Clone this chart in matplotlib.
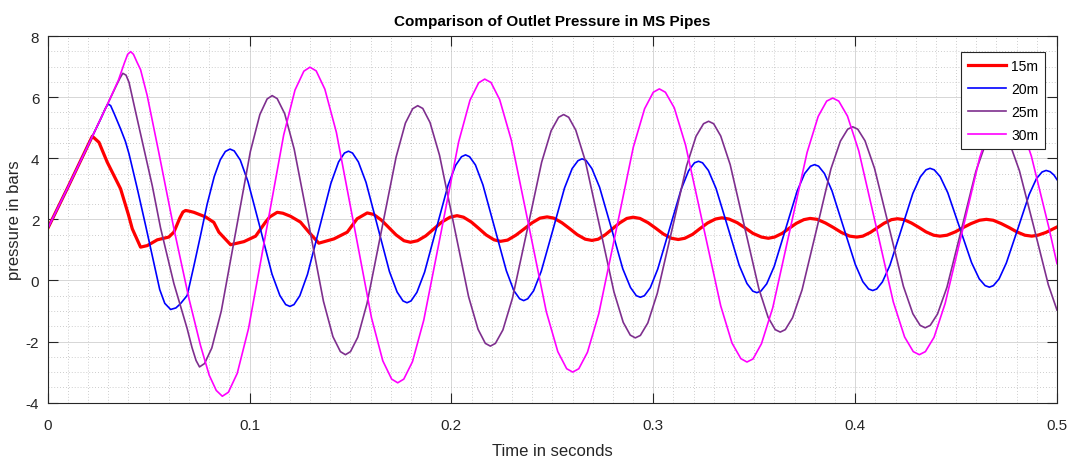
import matplotlib.pyplot as plt
from matplotlib.ticker import MultipleLocator, FormatStrFormatter

# readings taken off the original figure (time in s, pressure in bars)
t_15m = [0.0, 0.010, 0.018, 0.0221, 0.0254, 0.0295, 0.0361, 0.0400, 0.0419, 0.0460,
         0.0493, 0.0543, 0.0600, 0.0625, 0.0655, 0.0670, 0.0683, 0.0700, 0.0724, 0.0782,
         0.0823, 0.0848, 0.0906, 0.0972, 0.1030, 0.1079, 0.1100, 0.1137, 0.1165, 0.1203,
         0.1252, 0.1294, 0.1343, 0.1418, 0.1484, 0.1533, 0.1583,
         0.1615, 0.1654, 0.1690, 0.1726, 0.1765, 0.1797,
         0.1832, 0.1873, 0.1913, 0.1952, 0.1993, 0.2028,
         0.2060, 0.2099, 0.2136, 0.2172, 0.2211, 0.2243,
         0.2278, 0.2319, 0.2359, 0.2398, 0.2439, 0.2474,
         0.2507, 0.2547, 0.2585, 0.2623, 0.2663, 0.2696,
         0.2727, 0.2763, 0.2798, 0.2833, 0.2869, 0.2900,
         0.2934, 0.2974, 0.3012, 0.3050, 0.3090, 0.3124,
         0.3156, 0.3195, 0.3232, 0.3269, 0.3308, 0.3340,
         0.3375, 0.3416, 0.3455, 0.3494, 0.3536, 0.3570,
         0.3601, 0.3638, 0.3674, 0.3709, 0.3746, 0.3777,
         0.3812, 0.3853, 0.3893, 0.3932, 0.3973, 0.4008,
         0.4038, 0.4075, 0.4109, 0.4143, 0.4180, 0.4210,
         0.4242, 0.4279, 0.4315, 0.4351, 0.4389, 0.4420,
         0.4455, 0.4496, 0.4535, 0.4574, 0.4616, 0.4650,
         0.4684, 0.4724, 0.4763, 0.4801, 0.4841, 0.4875,
         0.4905, 0.4945, 0.5000]
p_15m = [1.70, 3.05, 4.15, 4.72, 4.52, 3.87, 3.00, 2.15, 1.69, 1.09,
         1.14, 1.33, 1.42, 1.58, 2.05, 2.24, 2.29, 2.27, 2.23, 2.08,
         1.90, 1.58, 1.17, 1.27, 1.45, 1.91, 2.08, 2.23, 2.20, 2.10,
         1.91, 1.58, 1.22, 1.36, 1.58, 2.02, 2.21,
         2.16, 1.97, 1.73, 1.49, 1.30, 1.25,
         1.30, 1.46, 1.69, 1.91, 2.07, 2.12,
         2.07, 1.91, 1.70, 1.49, 1.33, 1.28,
         1.32, 1.48, 1.68, 1.88, 2.04, 2.08,
         2.04, 1.89, 1.70, 1.50, 1.35, 1.31,
         1.35, 1.50, 1.69, 1.88, 2.03, 2.07,
         2.03, 1.89, 1.71, 1.52, 1.38, 1.34,
         1.38, 1.51, 1.70, 1.88, 2.01, 2.05,
         2.01, 1.89, 1.72, 1.54, 1.42, 1.38,
         1.42, 1.54, 1.71, 1.87, 1.99, 2.03,
         2.00, 1.88, 1.73, 1.57, 1.45, 1.42,
         1.45, 1.57, 1.72, 1.87, 1.99, 2.02,
         1.99, 1.88, 1.74, 1.59, 1.48, 1.45,
         1.48, 1.59, 1.73, 1.86, 1.97, 2.00,
         1.97, 1.86, 1.73, 1.59, 1.48, 1.45,
         1.48, 1.57, 1.75]

t_20m = [0.0, 0.010, 0.020, 0.026, 0.0285, 0.0299, 0.0312, 0.0330, 0.0361, 0.0385,
         0.0403, 0.0444, 0.0485, 0.0525, 0.0555, 0.0580, 0.0609, 0.0635, 0.0658, 0.0691,
         0.0725, 0.0757, 0.0790, 0.0825, 0.0855, 0.0880, 0.0903,
         0.0924, 0.0954, 0.0992, 0.1052, 0.1111, 0.1150, 0.1179, 0.1200,
         0.1220, 0.1249, 0.1287, 0.1345, 0.1403, 0.1441, 0.1470, 0.1490,
         0.1510, 0.1539, 0.1577, 0.1635, 0.1693, 0.1731, 0.1760, 0.1780,
         0.1800, 0.1829, 0.1867, 0.1925, 0.1983, 0.2021, 0.2050, 0.2070,
         0.2090, 0.2119, 0.2156, 0.2214, 0.2272, 0.2309, 0.2338, 0.2358,
         0.2378, 0.2407, 0.2445, 0.2503, 0.2560, 0.2598, 0.2627, 0.2647,
         0.2667, 0.2696, 0.2734, 0.2792, 0.2849, 0.2887, 0.2916, 0.2936,
         0.2956, 0.2985, 0.3022, 0.3080, 0.3138, 0.3175, 0.3204, 0.3224,
         0.3244, 0.3273, 0.3311, 0.3369, 0.3426, 0.3464, 0.3493, 0.3513,
         0.3533, 0.3562, 0.3599, 0.3656, 0.3713, 0.3750, 0.3779, 0.3799,
         0.3819, 0.3848, 0.3885, 0.3943, 0.4001, 0.4038, 0.4067, 0.4087,
         0.4107, 0.4135, 0.4172, 0.4229, 0.4286, 0.4323, 0.4351, 0.4371,
         0.4392, 0.4421, 0.4459, 0.4518, 0.4577, 0.4615, 0.4644, 0.4665,
         0.4685, 0.4713, 0.4749, 0.4806, 0.4862, 0.4898, 0.4926, 0.4946,
         0.4966, 0.4985, 0.5000]
p_20m = [1.70, 3.05, 4.42, 5.25, 5.62, 5.78, 5.72, 5.45, 4.96, 4.55,
         4.14, 3.00, 1.80, 0.60, -0.30, -0.75, -0.95, -0.90, -0.76, -0.49,
         0.50, 1.47, 2.50, 3.40, 3.95, 4.22, 4.30,
         4.24, 3.94, 3.24, 1.73, 0.21, -0.49, -0.79, -0.85,
         -0.79, -0.50, 0.20, 1.69, 3.18, 3.88, 4.17, 4.23,
         4.17, 3.88, 3.21, 1.75, 0.29, -0.38, -0.67, -0.73,
         -0.67, -0.39, 0.27, 1.69, 3.11, 3.77, 4.05, 4.11,
         4.05, 3.78, 3.13, 1.73, 0.32, -0.33, -0.60, -0.66,
         -0.60, -0.34, 0.30, 1.66, 3.02, 3.66, 3.92, 3.98,
         3.93, 3.66, 3.05, 1.72, 0.38, -0.23, -0.50, -0.55,
         -0.50, -0.24, 0.37, 1.68, 2.98, 3.59, 3.85, 3.90,
         3.85, 3.60, 3.01, 1.75, 0.49, -0.10, -0.35, -0.40,
         -0.35, -0.11, 0.46, 1.70, 2.93, 3.50, 3.74, 3.79,
         3.74, 3.50, 2.94, 1.73, 0.52, -0.04, -0.28, -0.33,
         -0.28, -0.05, 0.49, 1.67, 2.85, 3.39, 3.62, 3.67,
         3.62, 3.40, 2.87, 1.73, 0.58, 0.05, -0.17, -0.22,
         -0.17, 0.05, 0.57, 1.69, 2.81, 3.33, 3.55, 3.60,
         3.56, 3.45, 3.30]

t_25m = [0.0, 0.010, 0.020, 0.030, 0.034, 0.0358, 0.0372, 0.0388, 0.0403, 0.0436,
         0.0477, 0.0518, 0.0559, 0.0625, 0.0691, 0.0715, 0.0735, 0.0752,
         0.0777, 0.0813, 0.0860, 0.0932, 0.1004, 0.1051, 0.1087, 0.1112,
         0.1137, 0.1174, 0.1221, 0.1294, 0.1366, 0.1413, 0.1450, 0.1475,
         0.1500, 0.1536, 0.1582, 0.1654, 0.1726, 0.1772, 0.1808, 0.1833,
         0.1858, 0.1894, 0.1941, 0.2013, 0.2085, 0.2132, 0.2168, 0.2193,
         0.2218, 0.2255, 0.2302, 0.2375, 0.2447, 0.2494, 0.2531, 0.2556,
         0.2581, 0.2616, 0.2663, 0.2734, 0.2805, 0.2851, 0.2886, 0.2911,
         0.2936, 0.2973, 0.3020, 0.3093, 0.3165, 0.3212, 0.3249, 0.3274,
         0.3299, 0.3334, 0.3381, 0.3452, 0.3523, 0.3569, 0.3604, 0.3629,
         0.3654, 0.3690, 0.3737, 0.3809, 0.3880, 0.3927, 0.3963, 0.3988,
         0.4013, 0.4049, 0.4096, 0.4168, 0.4239, 0.4286, 0.4322, 0.4347,
         0.4372, 0.4408, 0.4455, 0.4527, 0.4598, 0.4645, 0.4681, 0.4706,
         0.4731, 0.4767, 0.4814, 0.4886, 0.4957, 0.5000]
p_25m = [1.70, 3.05, 4.42, 5.82, 6.38, 6.62, 6.78, 6.72, 6.48, 5.50,
         4.30, 3.10, 1.72, -0.10, -1.58, -2.20, -2.62, -2.83,
         -2.72, -2.21, -1.00, 1.61, 4.22, 5.43, 5.94, 6.05,
         5.95, 5.46, 4.30, 1.81, -0.68, -1.84, -2.33, -2.43,
         -2.33, -1.86, -0.75, 1.65, 4.04, 5.15, 5.62, 5.72,
         5.63, 5.17, 4.10, 1.79, -0.53, -1.60, -2.06, -2.15,
         -2.06, -1.62, -0.59, 1.64, 3.87, 4.90, 5.34, 5.43,
         5.34, 4.92, 3.92, 1.78, -0.37, -1.37, -1.79, -1.88,
         -1.80, -1.39, -0.42, 1.67, 3.75, 4.72, 5.13, 5.21,
         5.13, 4.73, 3.79, 1.76, -0.27, -1.21, -1.61, -1.69,
         -1.61, -1.22, -0.31, 1.67, 3.65, 4.56, 4.95, 5.03,
         4.95, 4.57, 3.67, 1.74, -0.19, -1.09, -1.47, -1.55,
         -1.47, -1.10, -0.22, 1.68, 3.57, 4.45, 4.82, 4.90,
         4.82, 4.46, 3.59, 1.73, -0.14, -0.97]

t_30m = [0.0, 0.010, 0.020, 0.030, 0.035, 0.0380, 0.0396, 0.0411, 0.0425, 0.0442,
         0.0460, 0.0493, 0.0550, 0.0625, 0.0700, 0.0757, 0.0800, 0.0835, 0.0865,
         0.0895, 0.0939, 0.0995, 0.1082, 0.1169, 0.1225, 0.1269, 0.1299,
         0.1330, 0.1373, 0.1430, 0.1517, 0.1604, 0.1660, 0.1704, 0.1734,
         0.1764, 0.1807, 0.1863, 0.1950, 0.2036, 0.2092, 0.2135, 0.2165,
         0.2196, 0.2239, 0.2296, 0.2383, 0.2470, 0.2527, 0.2571, 0.2601,
         0.2631, 0.2674, 0.2730, 0.2816, 0.2901, 0.2957, 0.3000, 0.3030,
         0.3060, 0.3104, 0.3160, 0.3247, 0.3334, 0.3390, 0.3434, 0.3464,
         0.3494, 0.3536, 0.3592, 0.3677, 0.3762, 0.3817, 0.3859, 0.3889,
         0.3919, 0.3962, 0.4018, 0.4104, 0.4189, 0.4245, 0.4288, 0.4318,
         0.4348, 0.4391, 0.4446, 0.4532, 0.4617, 0.4672, 0.4715, 0.4745,
         0.4775, 0.4818, 0.4873, 0.4959, 0.5000]
p_30m = [1.70, 3.05, 4.42, 5.82, 6.55, 7.12, 7.40, 7.49, 7.40, 7.15,
         6.90, 6.05, 4.20, 1.70, -0.60, -2.13, -3.10, -3.60, -3.79,
         -3.66, -3.04, -1.57, 1.60, 4.76, 6.23, 6.85, 6.98,
         6.86, 6.26, 4.85, 1.82, -1.22, -2.63, -3.23, -3.35,
         -3.23, -2.66, -1.30, 1.62, 4.54, 5.90, 6.47, 6.59,
         6.48, 5.92, 4.61, 1.80, -1.02, -2.33, -2.89, -3.00,
         -2.89, -2.35, -1.09, 1.64, 4.36, 5.62, 6.16, 6.27,
         6.16, 5.65, 4.43, 1.80, -0.83, -2.05, -2.56, -2.67,
         -2.57, -2.07, -0.89, 1.65, 4.19, 5.37, 5.87, 5.97,
         5.87, 5.38, 4.24, 1.77, -0.70, -1.85, -2.33, -2.43,
         -2.33, -1.86, -0.75, 1.64, 4.02, 5.13, 5.60, 5.70,
         5.61, 5.15, 4.07, 1.75, 0.55]

series = [
    ('15m', t_15m, p_15m, '#ff0000', 2.3),
    ('20m', t_20m, p_20m, '#0000ff', 1.2),
    ('25m', t_25m, p_25m, '#7e2f8e', 1.2),
    ('30m', t_30m, p_30m, '#ff00ff', 1.2),
]

plt.rcParams['font.family'] = ['Liberation Sans', 'DejaVu Sans']
plt.rcParams['axes.unicode_minus'] = False

fig = plt.figure(figsize=(10.72, 4.6), dpi=100)
ax = fig.add_axes([0.0445, 0.1225, 0.9415, 0.797])

for name, t, p, col, lw in series:
    ax.plot(t, p, color=col, linewidth=lw, label=name)

ax.set_xlim(0, 0.5)
ax.set_ylim(-4, 8)
ax.xaxis.set_major_locator(MultipleLocator(0.1))
ax.xaxis.set_minor_locator(MultipleLocator(0.01))
ax.yaxis.set_major_locator(MultipleLocator(2))
ax.yaxis.set_minor_locator(MultipleLocator(0.5))
ax.xaxis.set_major_formatter(FormatStrFormatter('%g'))

ax.grid(True, which='major', color='#d6d6d6', linewidth=0.7, linestyle='-')
ax.grid(True, which='minor', color='#bdbdbd', linewidth=0.6, linestyle=(0, (1, 2.5)))
ax.set_axisbelow(True)

ax.tick_params(which='major', direction='in', length=7.5, width=0.8, top=True, right=True,
               colors='#262626', labelsize=11)
ax.tick_params(axis='x', which='major', pad=11)
ax.tick_params(axis='y', which='major', pad=6)
ax.tick_params(which='minor', length=0, top=True, right=True)
for s in ax.spines.values():
    s.set_color('#262626')
    s.set_linewidth(0.8)

ax.set_xlabel('Time in seconds', fontsize=12, color='#262626', labelpad=8)
ax.set_ylabel('pressure in bars', fontsize=12, color='#262626', labelpad=3)
ax.set_title('Comparison of Outlet Pressure in MS Pipes', fontsize=11, fontweight='bold', pad=8)

leg = ax.legend(loc='upper right', bbox_to_anchor=(0.9884, 0.9565), borderaxespad=0,
                fontsize=10, fancybox=False, framealpha=1, edgecolor='#262626',
                handlelength=2.7, borderpad=0.5, labelspacing=0.65, handletextpad=0.4)
leg.get_frame().set_linewidth(0.8)

fig.savefig('out.png', dpi=100)
